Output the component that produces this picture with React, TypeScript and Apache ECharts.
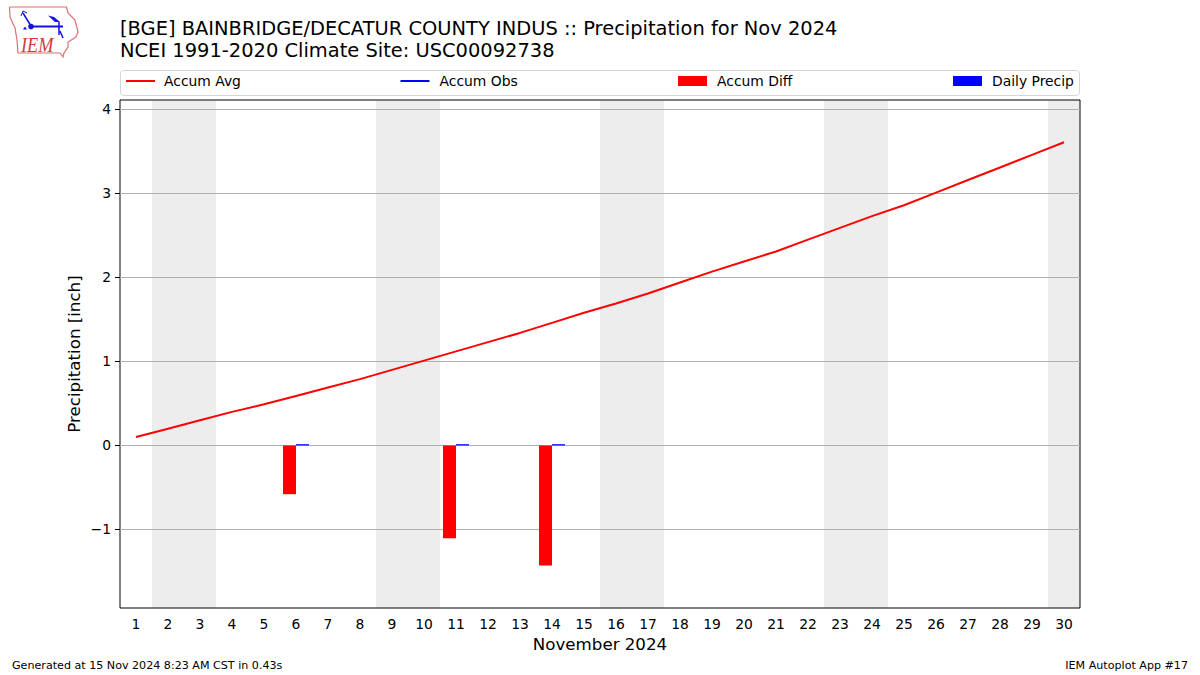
import React, { useEffect, useRef } from "react";
import * as echarts from "echarts";

const FONT = "DejaVu Sans";
const titleLines = [
  "[BGE] BAINBRIDGE/DECATUR COUNTY INDUS :: Precipitation for Nov 2024",
  "NCEI 1991-2020 Climate Site: USC00092738",
];
const footerLeft = "Generated at 15 Nov 2024 8:23 AM CST in 0.43s";
const footerRight = "IEM Autoplot App #17";
const xAxisTitle = "November 2024";
const yAxisTitle = "Precipitation [inch]";

const days = Array.from({ length: 30 }, (_, i) => String(i + 1));
const yTicks = [-1, 0, 1, 2, 3, 4];
const accumAvg = [
  0.1, 0.2, 0.3, 0.4, 0.49, 0.59, 0.69, 0.79, 0.9, 1.01, 1.12, 1.23, 1.34, 1.46, 1.58,
  1.69, 1.81, 1.94, 2.07, 2.19, 2.31, 2.45, 2.59, 2.73, 2.86, 3.01, 3.16, 3.31, 3.46, 3.61,
];
const accumObs: (number | null)[] = [];
const accumDiff = [
  null, null, null, null, null, -0.58, null, null, null, null, -1.105, null, null, -1.43, null,
];
const dailyPrecip = [
  null, null, null, null, null, 0.015, null, null, null, null, 0.015, null, null, 0.015, null,
];
const weekends = [
  [1.5, 3.5],
  [8.5, 10.5],
  [15.5, 17.5],
  [22.5, 24.5],
  [29.5, 30.5],
];

const iowaOutline = [
  [9.5, 7], [66.5, 7], [68, 13], [75, 20], [78, 32], [76, 37], [68, 42], [68, 47],
  [64, 53], [63, 57], [60, 53], [18, 53], [17, 40], [15, 28], [10, 17], [9.5, 7],
];

const lineIcon = "path://M0 0L29 0L29 0ZM0 4H29V6H0ZM0 10L29 10L29 10Z";

const legendItem = (left: number, textPad: number, entry: object) => ({
  left,
  top: 74,
  padding: 0,
  itemWidth: 29,
  itemHeight: 10,
  textStyle: { fontFamily: FONT, fontSize: 13.89, color: "#000", padding: [0, 0, 0, textPad] },
  data: [entry],
});

export default function App() {
  const ref = useRef<HTMLDivElement>(null);
  useEffect(() => {
    const chart = echarts.init(ref.current!, null, { renderer: "svg" });
    const blue = "#1010e0";
    const logoLine = (points: number[][], width = 1.5) => ({
      type: "polyline",
      shape: { points },
      style: { stroke: blue, lineWidth: width, fill: "none" },
      silent: true,
    });
    chart.setOption({
      animation: false,
      backgroundColor: "#fff",
      textStyle: { fontFamily: FONT },
      title: {
        text: titleLines.join("\n"),
        left: 120,
        top: 17,
        padding: 0,
        textStyle: {
          fontFamily: FONT,
          fontSize: 19.45,
          fontWeight: "normal",
          color: "#000",
          lineHeight: 22.5,
        },
      },
      legend: [
        legendItem(126, 4, { name: "Accum Avg", icon: lineIcon, itemStyle: { color: "#ff0000", borderWidth: 0 } }),
        legendItem(400.5, 5, { name: "Accum Obs", icon: lineIcon, itemStyle: { color: "#0000ff", borderWidth: 0 } }),
        legendItem(678, 5, { name: "Accum Diff", icon: "rect" }),
        legendItem(953, 5, { name: "Daily Precip", icon: "rect" }),
      ],
      grid: {
        left: 120,
        top: 100,
        width: 960,
        height: 508,
        show: true,
        borderColor: "#000",
        borderWidth: 1,
        containLabel: false,
      },
      xAxis: [
        {
          type: "category",
          data: days,
          name: xAxisTitle,
          nameLocation: "middle",
          nameGap: 27,
          nameTextStyle: { fontFamily: FONT, fontSize: 16.67, color: "#000" },
          axisLine: { show: false, onZero: false },
          axisTick: { alignWithLabel: true, length: 5, lineStyle: { color: "#000", width: 1 } },
          axisLabel: { interval: 0, margin: 9, fontFamily: FONT, fontSize: 13.89, color: "#000" },
          splitLine: { show: false },
        },
        { type: "value", min: 0.5, max: 30.5, show: false, splitLine: { show: false } },
      ],
      yAxis: {
        type: "value",
        min: -1.935,
        max: 4.113,
        name: yAxisTitle,
        nameLocation: "middle",
        nameGap: 37,
        nameMoveOverlap: false,
        nameTextStyle: { fontFamily: FONT, fontSize: 16.67, color: "#000" },
        axisLine: { show: false },
        axisTick: {
          show: true,
          length: 5,
          customValues: yTicks,
          lineStyle: { color: "#000", width: 1 },
        },
        axisLabel: {
          customValues: yTicks,
          margin: 9,
          fontFamily: FONT,
          fontSize: 13.89,
          color: "#000",
          formatter: (v: number) => (v < 0 ? "\u2212" + Math.abs(v) : String(v)),
        },
        splitLine: { show: true, lineStyle: { color: "#b0b0b0", width: 1 } },
      },
      series: [
        {
          name: "Weekend",
          type: "line",
          xAxisIndex: 1,
          data: [],
          z: -1,
          silent: true,
          markArea: {
            silent: true,
            z: -1,
            itemStyle: { color: "#ededed" },
            data: weekends.map(([a, b]) => [{ xAxis: a }, { xAxis: b }]),
          },
        },
        {
          name: "Accum Avg",
          type: "line",
          data: accumAvg,
          showSymbol: false,
          symbol: "none",
          itemStyle: { color: "#ff0000" },
          lineStyle: { color: "#ff0000", width: 2 },
          z: 5,
        },
        {
          name: "Accum Obs",
          type: "line",
          data: accumObs,
          showSymbol: false,
          symbol: "none",
          itemStyle: { color: "#0000ff" },
          lineStyle: { color: "#0000ff", width: 2 },
          z: 5,
        },
        {
          name: "Accum Diff",
          type: "bar",
          data: accumDiff,
          barWidth: 13,
          barGap: 0,
          itemStyle: { color: "#ff0000" },
          z: 4,
        },
        {
          name: "Daily Precip",
          type: "bar",
          data: dailyPrecip,
          barWidth: 13,
          barGap: 0,
          itemStyle: { color: "#0000ff" },
          z: 4,
        },
      ],
      graphic: [
        {
          type: "rect",
          shape: { x: 120.5, y: 70.5, width: 959, height: 25, r: 3 },
          style: { stroke: "#d5d5d5", lineWidth: 1, fill: "none" },
          silent: true,
        },
        {
          type: "polyline",
          shape: { points: iowaOutline },
          style: { stroke: "#df6f72", lineWidth: 1.2, fill: "#fff" },
          silent: true,
        },
        logoLine([[23, 13], [31, 26]]),
        logoLine([[21, 16], [23, 11], [27, 13]], 1),
        logoLine([[31, 26.5], [63, 26.5]], 2),
        logoLine([[59, 22], [59, 35]]),
        logoLine([[60, 31], [63, 38]], 1.5),
        {
          type: "circle",
          shape: { cx: 31, cy: 26.5, r: 2.8 },
          style: { fill: blue },
          silent: true,
        },
        {
          type: "polygon",
          shape: { points: [[48, 15.5], [54, 17], [60, 22], [55, 22]] },
          style: { fill: blue },
          silent: true,
        },
        {
          type: "polygon",
          shape: { points: [[25, 26.5], [23, 29.5], [27, 29.5]] },
          style: { fill: blue },
          silent: true,
        },
        {
          type: "text",
          x: 21,
          y: 34,
          scaleX: 0.87,
          style: {
            text: "IEM",
            fontFamily: "Liberation Serif",
            fontStyle: "italic",
            fontSize: 21,
            fill: "#d8383c",
          },
          silent: true,
        },
        {
          type: "text",
          left: 12,
          top: 660,
          style: { text: footerLeft, fontFamily: FONT, fontSize: 11.11, fill: "#000" },
        },
        {
          type: "text",
          right: 12,
          top: 660,
          style: { text: footerRight, fontFamily: FONT, fontSize: 11.11, fill: "#000" },
        },
      ],
    });
    return () => chart.dispose();
  }, []);
  return (
    <div
      ref={ref}
      style={{ width: 1200, height: 675, position: "absolute", left: 0, top: 0, background: "#fff" }}
    />
  );
}
